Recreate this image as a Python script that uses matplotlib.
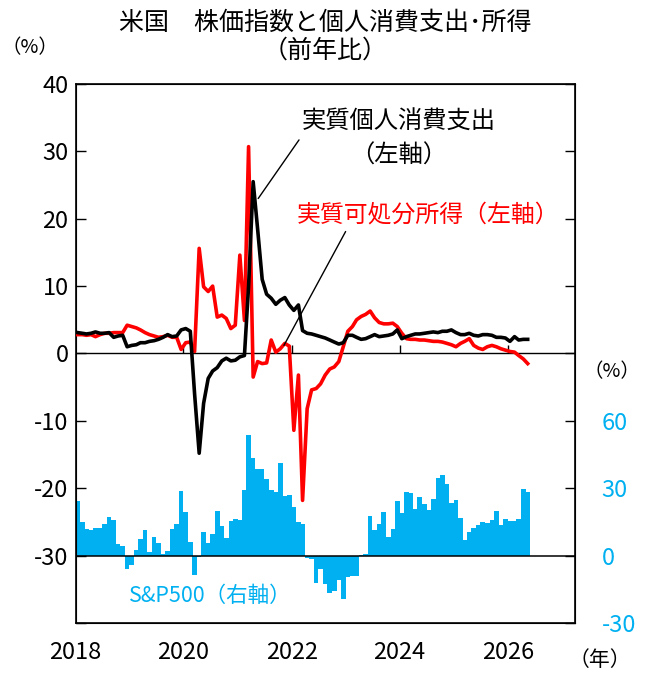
import pandas as pd
import matplotlib.pyplot as plt
import matplotlib.dates as mdates

plt.rcParams['font.family'] = ['Noto Sans CJK JP', 'DejaVu Sans']

# 月次データ 2018年1月～2026年5月（前年比, %）
months = pd.date_range("2018-01-01", periods=101, freq="MS") + pd.Timedelta(days=15)

pce = [3.1, 3.0, 2.9, 3.0, 3.2, 3.0, 3.0, 3.1, 2.4, 2.6, 2.7, 1.0,
       1.2, 1.3, 1.6, 1.6, 1.8, 1.9, 2.1, 2.4, 2.8, 2.5, 2.6, 3.5,
       3.7, 3.3, -6.0, -14.8, -7.4, -3.7, -2.6, -2.1, -1.1, -0.7, -1.1, -1.0,
       -0.5, -0.3, 10.0, 25.5, 18.5, 11.0, 8.8, 8.2, 7.3, 7.9, 8.3, 7.2,
       6.4, 7.2, 3.4, 3.0, 2.9, 2.7, 2.5, 2.3, 2.0, 1.7, 1.4, 1.6,
       2.7, 2.7, 2.4, 2.1, 2.2, 2.5, 2.8, 2.5, 2.6, 2.7, 2.9, 3.5,
       2.2, 2.5, 2.7, 2.9, 2.9, 3.0, 3.1, 3.2, 3.1, 3.3, 3.3, 3.5,
       3.1, 2.8, 2.8, 3.0, 2.7, 2.6, 2.8, 2.8, 2.7, 2.4, 2.4, 2.3,
       1.8, 2.5, 2.0, 2.1, 2.1]

income = [2.8, 2.8, 2.7, 2.8, 2.5, 2.8, 3.0, 3.0, 3.1, 3.1, 3.1, 4.2,
          4.0, 3.8, 3.5, 3.1, 2.8, 2.6, 2.4, 2.5, 2.7, 2.4, 2.4, 0.6,
          1.6, 1.7, 0.3, 15.6, 9.9, 9.2, 10.0, 5.4, 5.7, 5.2, 3.7, 4.2,
          14.6, 4.9, 30.7, -3.5, -1.2, -1.5, -1.4, 2.0, 0.2, 0.7, 1.5, 1.1,
          -11.4, -3.2, -21.8, -8.2, -5.4, -5.2, -4.5, -3.2, -2.3, -2.0, -1.2, 1.0,
          3.3, 4.0, 5.0, 5.5, 5.8, 6.3, 5.3, 4.6, 4.4, 4.4, 4.5, 4.0,
          3.0, 2.2, 2.1, 2.1, 2.0, 2.0, 1.9, 1.8, 1.8, 1.7, 1.5, 1.3,
          1.0, 1.5, 1.8, 2.2, 1.2, 0.8, 0.6, 1.0, 1.2, 1.0, 0.7, 0.5,
          0.3, 0.2, -0.3, -0.8, -1.5]

sp500 = [24.1, 14.8, 11.8, 11.2, 12.2, 12.2, 13.9, 17.3, 15.8, 5.2, 4.2, -6.0,
         -4.2, 2.5, 7.5, 11.2, 1.8, 8.2, 5.8, 0.7, 2.1, 11.9, 13.9, 28.9,
         19.4, 6.0, -8.6, -0.6, 10.6, 5.5, 9.7, 19.7, 13.0, 7.7, 15.5, 16.4,
         15.9, 29.1, 53.9, 43.5, 38.6, 38.6, 34.1, 29.2, 28.3, 41.1, 26.4, 27.0,
         21.6, 14.9, 14.2, -1.2, -1.6, -12.1, -6.1, -12.5, -16.7, -15.9, -10.9, -19.4,
         -9.7, -9.2, -9.2, 0.4, 0.9, 17.6, 11.2, 14.0, 19.5, 8.3, 11.9, 24.3,
         18.9, 28.5, 27.9, 20.9, 26.2, 22.8, 20.4, 25.3, 34.4, 36.1, 32.0, 23.4,
         24.7, 16.8, 6.9, 10.6, 12.1, 13.6, 14.9, 14.5, 15.9, 19.8, 13.6, 16.4,
         15.2, 15.6, 16.4, 29.7, 28.5]

year_ticks = pd.to_datetime(["2018-01-01", "2020-01-01", "2022-01-01", "2024-01-01", "2026-01-01"])
year_labels = ["2018", "2020", "2022", "2024", "2026"]
left_ticks = [-40, -30, -20, -10, 0, 10, 20, 30, 40]
left_labels = ["", "-30", "-20", "-10", "0", "10", "20", "30", "40"]
right_ticks = [-30, 0, 30, 60, 90, 120, 150, 180, 210]
right_labels = ["-30", "0", "30", "60", "", "", "", "", ""]

blue = "#00B0F0"

fig = plt.figure(figsize=(6.51, 6.73), dpi=100)
ax = fig.add_axes([0.116, 0.0743, 0.7673, 0.8009])
ax2 = ax.twinx()
ax.set_zorder(ax2.get_zorder() + 1)
ax.patch.set_visible(False)

# 株価（右軸）
ax2.bar(months, sp500, width=31, color=blue, linewidth=0)
ax2.axhline(0, color="black", lw=1.1)
ax2.set_ylim(-30, 210)
ax2.set_yticks(right_ticks)
ax2.set_yticklabels(right_labels, color=blue, fontsize=17)
ax2.tick_params(axis="y", direction="in", length=7, pad=19, width=1)

# 消費・所得（左軸）
ax.plot(months, pce, color="black", lw=2.6, zorder=4)
ax.plot(months, income, color="#FF0000", lw=2.6, zorder=3)
ax.axhline(0, color="black", lw=1)
ax.set_ylim(-40, 40)
ax.set_yticks(left_ticks)
ax.set_yticklabels(left_labels, fontsize=17)
ax.tick_params(axis="y", direction="in", length=7, pad=5, width=1)

ax.set_xlim(pd.Timestamp("2018-01-01"), pd.Timestamp("2027-04-01"))
ax.set_xticks(year_ticks)
ax.set_xticklabels(year_labels, fontsize=17)
ax.tick_params(axis="x", length=0, pad=13)
ax.vlines(year_ticks[1:], 0, 1.2, color="black", lw=1)

for sp in ax.spines.values():
    sp.set_linewidth(1.2)

# 注記
ax.annotate("", xy=(pd.Timestamp("2021-05-20"), 23.0), xytext=(pd.Timestamp("2022-02-20"), 31.7),
            arrowprops=dict(arrowstyle="-", color="black", lw=1, shrinkA=0, shrinkB=0))
ax.annotate("", xy=(pd.Timestamp("2021-11-10"), 1.2), xytext=(pd.Timestamp("2023-01-01"), 18.1),
            arrowprops=dict(arrowstyle="-", color="black", lw=1, shrinkA=0, shrinkB=0))
ax.text(pd.Timestamp("2023-12-25"), 34.4, "実質個人消費支出", ha="center", va="center", fontsize=17.5)
ax.text(pd.Timestamp("2023-12-25"), 29.3, "（左軸）", ha="center", va="center", fontsize=17.5)
ax.text(pd.Timestamp("2024-07-10"), 20.5, "実質可処分所得（左軸）", ha="center", va="center",
        fontsize=17.2, color="#FF0000")
ax.text(0.27, 0.05, "S&P500（右軸）", transform=ax.transAxes, ha="center", va="center",
        fontsize=15.5, color=blue)

fig.text(0.5, 1 - 23 / 673, "米国　株価指数と個人消費支出･所得", ha="center", va="center", fontsize=18)
fig.text(0.5, 1 - 51 / 673, "（前年比）", ha="center", va="center", fontsize=18)
fig.text(30 / 651, 1 - 48 / 673, "（%）", ha="center", va="center", fontsize=14)
fig.text(612 / 651, 1 - 372 / 673, "（%）", ha="center", va="center", fontsize=14)
fig.text(600 / 651, 1 - 660 / 673, "（年）", ha="center", va="center", fontsize=15)

fig.savefig("out.png", dpi=100)
